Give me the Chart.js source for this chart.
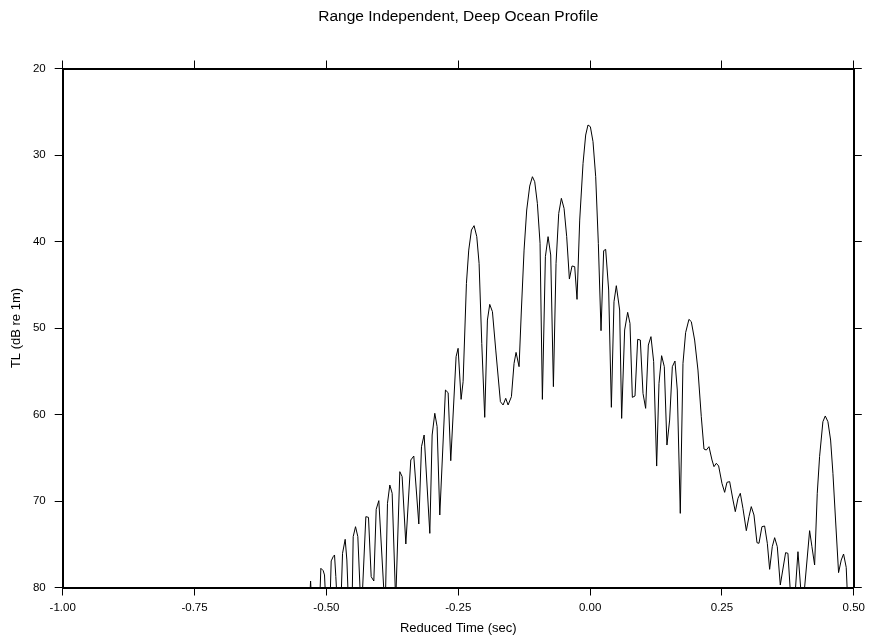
<!DOCTYPE html>
<html>
<head>
<meta charset="utf-8">
<script src="https://cdn.jsdelivr.net/npm/chart.js@4/dist/chart.umd.min.js"></script>
<style>
  html, body { margin: 0; padding: 0; background: #ffffff; }
  #wrap { width: 870px; height: 641px; }
</style>
</head>
<body>
<div id="wrap"><canvas id="c" width="870" height="641"></canvas></div>
<script>
// ---- data ----
const chartTitle = "Range Independent, Deep Ocean Profile";
const xTitle = "Reduced Time (sec)";
const yTitle = "TL (dB re 1m)";
const xTicks = [-1.00, -0.75, -0.50, -0.25, 0.00, 0.25, 0.50];
const yTicks = [20, 30, 40, 50, 60, 70, 80];

const times = [
-0.540, -0.5315, -0.5300, -0.5285, -0.5124, -0.5105, -0.5061, -0.5036, -0.5017,
-0.4928, -0.4909, -0.4871, -0.4846, -0.4821, -0.4802,
-0.4720, -0.4694, -0.4644, -0.4612, -0.4587,
-0.4511, -0.4492, -0.4448, -0.4404, -0.4360, -0.4320,
-0.4252, -0.4202, -0.4151, -0.4101, -0.4056, -0.4006, -0.3905,
-0.3880, -0.3842, -0.3798, -0.3753, -0.3690,
-0.3680, -0.3608, -0.3564, -0.3494, -0.3400, -0.3343, -0.3248, -0.3197, -0.3147, -0.3039, -0.2995, -0.2945, -0.2901,
-0.2850, -0.2743, -0.2692, -0.2642, -0.2541, -0.2503, -0.2446, -0.2408, -0.2345, -0.2301, -0.2250, -0.2200, -0.2149, -0.2105, -0.2054, -0.1998, -0.1947, -0.1903, -0.1852, -0.1789, -0.1701, -0.1650, -0.1600, -0.1555, -0.1492, -0.1442, -0.1404, -0.1347, -0.1303, -0.1252, -0.1202, -0.1145, -0.1094, -0.1050, -0.1000, -0.0949, -0.0905, -0.0848, -0.0797, -0.0747, -0.0696, -0.0646, -0.0595, -0.0545, -0.0494, -0.0444, -0.0393, -0.0343, -0.0292,
-0.0248, -0.0197, -0.0134, -0.0084, -0.0040, 0.0005, 0.0055, 0.0106, 0.0156, 0.0207, 0.0257, 0.0295, 0.0352, 0.0403, 0.0453, 0.0497, 0.0560, 0.0598, 0.0655, 0.0712, 0.0756, 0.0801, 0.0851, 0.0902, 0.0952, 0.1003, 0.1053, 0.1104, 0.1154, 0.1205, 0.1262, 0.1306, 0.1356, 0.1407, 0.1457, 0.1508, 0.1559, 0.1609, 0.1653, 0.1710, 0.1761, 0.1811, 0.1874, 0.1919, 0.1982, 0.2045, 0.2108, 0.2159, 0.2203, 0.2254,
0.2311, 0.2349, 0.2393, 0.2437, 0.2500, 0.2551, 0.2595, 0.2646, 0.2709, 0.2753, 0.2804, 0.2848, 0.2898, 0.2962, 0.3012, 0.3056, 0.3107, 0.3164, 0.3202, 0.3258, 0.3309, 0.3360, 0.3404, 0.3454, 0.3499, 0.3549, 0.3606, 0.3707, 0.3751, 0.3802, 0.3890, 0.3941, 0.4004, 0.4060, 0.4162, 0.4206, 0.4257, 0.4307, 0.4351, 0.4414, 0.4459, 0.4509, 0.4560, 0.4604, 0.4654, 0.4711, 0.4762, 0.4806, 0.4856, 0.4880
];

const tlValues = [
82, 81, 79.25, 81, 81, 77.78, 78.05, 78.55, 81,
81, 76.93, 76.43, 76.24, 78.75, 81,
81, 76.05, 74.43, 76.82, 81,
81, 74.12, 72.97, 74.12, 80.5, 81,
71.81, 71.89, 78.75, 79.25, 70.96, 69.96, 81,
81, 70.27, 68.15, 69.11, 81,
80.5, 66.61, 67.18, 74.97, 65.26, 64.80, 72.66, 63.72, 62.37, 73.74, 62.37, 59.86, 61.40,
71.62, 57.17, 57.48, 65.34, 53.32, 52.35, 58.25, 56.21, 44.84, 40.99, 38.67, 38.17, 39.44, 42.53, 51.78, 60.33, 49.08, 47.27, 48.11, 52.55, 58.52, 58.90, 58.13, 58.90, 57.94, 54.09, 52.82, 54.47, 47.92, 40.99, 36.36, 33.59, 32.51, 33.09, 35.59, 40.21, 58.25, 41.76, 39.44, 41.56, 56.78, 42.53, 36.75, 35.01, 36.17, 39.44, 44.34, 42.83, 42.91,
46.69, 37.52, 30.97, 27.69, 26.53, 26.73, 28.46, 32.51, 40.21, 50.31, 41.06, 40.91, 45.61, 59.17, 46.96, 45.11, 47.92, 60.45, 50.23, 48.19, 49.46, 58.02, 57.86, 51.31, 51.39, 57.56, 59.29, 51.97, 51.00, 53.89, 65.96, 56.40, 53.20, 54.47, 63.53, 60.64, 54.47, 53.82, 57.17, 71.43, 54.09, 50.54, 49.00, 49.27, 51.39, 54.86, 60.25, 63.99, 64.11, 63.72,
65.26, 66.03, 65.64, 65.95, 67.96, 69.00, 67.84, 67.76, 69.88, 71.23, 69.69, 69.11, 70.85, 73.43, 71.81, 70.65, 71.62, 74.82, 74.89, 72.97, 72.89, 74.89, 77.90, 75.28, 74.24, 75.28, 79.71, 75.97, 76.05, 81, 80.5, 75.86, 81, 80.5, 73.43, 75.28, 77.40, 69.11, 64.87, 60.83, 60.17, 60.83, 62.95, 66.80, 72.20, 78.28, 76.82, 76.13, 77.67, 81
];

// ---- chart ----
const FONT = "'Liberation Sans', Arial, Helvetica, sans-serif";
const points = times.map((t, i) => ({ x: t, y: tlValues[i] }));

const tickGrid = {
  drawOnChartArea: false,
  drawTicks: true,
  tickLength: 8,
  color: '#000000',
  lineWidth: 1
};
const axisBorder = { display: true, color: '#000000', width: 2 };
const setTicks = (vals) => (scale) => { scale.ticks = vals.map(v => ({ value: v })); };

new Chart(document.getElementById('c'), {
  type: 'scatter',
  data: {
    datasets: [{
      data: points,
      showLine: true,
      borderColor: '#000000',
      borderWidth: 1,
      pointRadius: 0,
      pointHoverRadius: 0,
      tension: 0,
      fill: false
    }]
  },
  options: {
    responsive: false,
    animation: false,
    events: [],
    layout: { padding: 0 },
    plugins: {
      legend: { display: false },
      tooltip: { enabled: false },
      title: {
        display: true,
        text: chartTitle,
        color: '#000000',
        fullSize: false,
        font: { family: FONT, size: 15.5, weight: 'normal' },
        padding: { top: 7, bottom: 10 }
      }
    },
    scales: {
      x: {
        type: 'linear', position: 'bottom',
        min: -1, max: 0.5,
        afterBuildTicks: setTicks(xTicks),
        afterFit: (s) => { s.height = 53.5; },
        grid: tickGrid, border: axisBorder,
        ticks: {
          color: '#000000', padding: 5, maxRotation: 0,
          font: { family: FONT, size: 11.5 },
          callback: (v) => Number(v).toFixed(2)
        },
        title: {
          display: true, text: xTitle, color: '#000000',
          font: { family: FONT, size: 13 },
          padding: { top: 0, bottom: 5 }
        }
      },
      x2: {
        type: 'linear', position: 'top',
        min: -1, max: 0.5,
        afterBuildTicks: setTicks(xTicks),
        afterFit: (s) => { s.height = 32.9; },
        grid: tickGrid, border: axisBorder,
        ticks: { display: false }
      },
      y: {
        type: 'linear', position: 'left',
        min: 20, max: 80, reverse: true,
        afterBuildTicks: setTicks(yTicks),
        afterFit: (s) => { s.width = 62.7; },
        grid: tickGrid, border: axisBorder,
        ticks: {
          color: '#000000', padding: 9,
          font: { family: FONT, size: 11.5 },
          callback: (v) => String(v)
        },
        title: {
          display: true, text: yTitle, color: '#000000',
          font: { family: FONT, size: 13 },
          padding: { top: 9, bottom: 0 }
        }
      },
      y2: {
        type: 'linear', position: 'right',
        min: 20, max: 80, reverse: true,
        afterBuildTicks: setTicks(yTicks),
        afterFit: (s) => { s.width = 15.7; },
        grid: tickGrid, border: axisBorder,
        ticks: { display: false }
      }
    }
  }
});
</script>
</body>
</html>
